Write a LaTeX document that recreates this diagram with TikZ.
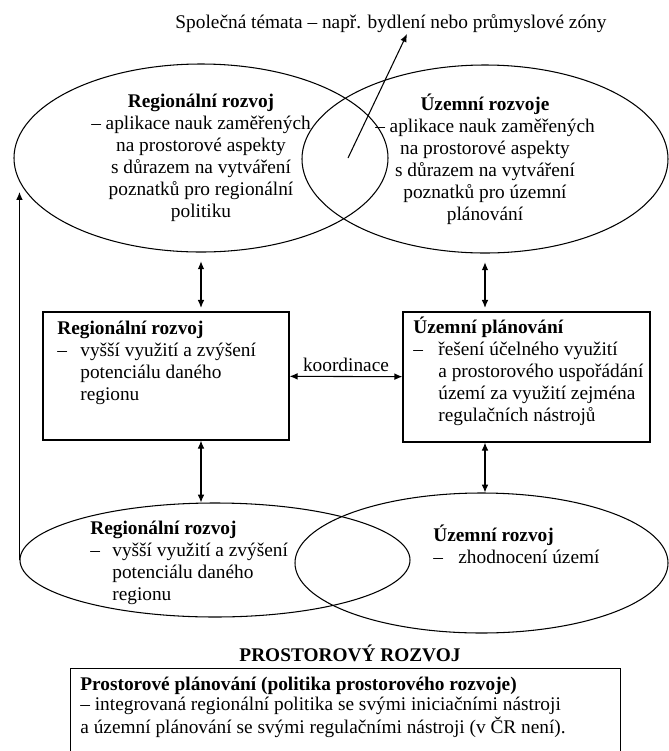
\documentclass[tikz,border=0pt]{standalone}
\usepackage{fontspec}
\setmainfont{Liberation Serif}
\usetikzlibrary{shapes.geometric,arrows.meta}

\begin{document}
\begin{tikzpicture}[x=0.2mm,y=-0.2mm,font=\fontsize{11}{12.5}\selectfont,
    >={Latex[length=4.5pt,width=3.8pt]},
    elipsa/.style={draw,ellipse,inner sep=0pt,line width=0.6pt,align=center},
    ramec/.style={draw,rectangle,inner sep=0pt,line width=0.7pt},
    popis/.style={inner sep=0pt,align=left},
    sipka/.style={line width=0.6pt}]
    \useasboundingbox (0,0) rectangle (669,751);

    \node[popis] (temata) at (391,24) {Společná témata -- např. bydlení nebo průmyslové zóny};

    \node[elipsa,minimum width=74.8mm,minimum height=37.6mm] (regElipsa) at (201,158) {\textbf{Regionální rozvoj}\\ -- aplikace nauk zaměřených\\ na prostorové aspekty\\ s důrazem na vytváření\\ poznatků pro regionální\\ politiku};
    \node[elipsa,minimum width=73.2mm,minimum height=37.6mm] (uzElipsa) at (485,159) {\textbf{Územní rozvoje}\\ -- aplikace nauk zaměřených\\ na prostorové aspekty\\ s důrazem na vytváření\\ poznatků pro územní\\ plánování};

    \coordinate (prunik) at (348,158);
    \coordinate (hrot) at (407,34);
    \draw[->,sipka] (prunik) -- (hrot);

    \node[ramec,minimum width=49.2mm,minimum height=25.6mm] (regRamec) at (166,376) {};
    \node[popis,anchor=north west] at (57,321) {\textbf{Regionální rozvoj}\\ \makebox[4.6mm][l]{--}vyšší využití a zvýšení\\ \hspace*{4.6mm}potenciálu daného\\ \hspace*{4.6mm}regionu};
    \node[ramec,minimum width=49.4mm,minimum height=26mm] (uzRamec) at (526.5,377) {};
    \node[popis,anchor=north west] at (413,317) {\textbf{Územní plánování}\\ \makebox[5mm][l]{--}řešení účelného využití\\ \hspace*{5mm}a prostorového uspořádání\\ \hspace*{5mm}území za využití zejména\\ \hspace*{5mm}regulačních nástrojů};

    \draw[<->,sipka] (regRamec) -- (uzRamec) node[midway,above=2.5pt,popis] (koordinace) {koordinace};
    \draw[<->,sipka,shorten <=5pt,shorten >=2pt] (regElipsa.south) -- (regElipsa.south |- regRamec.north);
    \draw[<->,sipka,shorten <=5pt,shorten >=2pt] (uzElipsa.south) -- (uzElipsa.south |- uzRamec.north);

    \node[elipsa,minimum width=78mm,minimum height=22.8mm] (regDole) at (215,560) {};
    \node[elipsa,minimum width=74.6mm,minimum height=28mm] (uzDole) at (481.5,563) {};
    \node[popis,anchor=north west] at (90,521) {\textbf{Regionální rozvoj}\\ \makebox[4.4mm][l]{--}vyšší využití a zvýšení\\ \hspace*{4.4mm}potenciálu daného\\ \hspace*{4.4mm}regionu};
    \node[popis,anchor=north west] at (433,525) {\textbf{Územní rozvoj}\\ \makebox[5mm][l]{--}zhodnocení území};

    \draw[<->,sipka] (regRamec.south -| regElipsa.south) -- (regElipsa.south |- regDole.north);
    \draw[<->,sipka] (uzRamec.south -| uzElipsa.south) -- (uzElipsa.south |- uzDole.north);
    \draw[->,sipka] (regDole.west) -- (regDole.west |- regElipsa.191);

    \node[popis,font=\fontsize{11}{12.5}\selectfont\bfseries] (prostor) at (350,653) {PROSTOROVÝ ROZVOJ};
    \node[ramec,anchor=north west,minimum width=110mm,minimum height=24mm] (planRamec) at (70,668) {};
    \node[popis,anchor=north west,font=\fontsize{11}{11.2}\selectfont] at (80,677) {\textbf{Prostorové plánování (politika prostorového rozvoje)}\\ -- integrovaná regionální politika se svými iniciačními nástroji\\ a územní plánování se svými regulačními nástroji (v ČR není).};
\end{tikzpicture}
\end{document}
